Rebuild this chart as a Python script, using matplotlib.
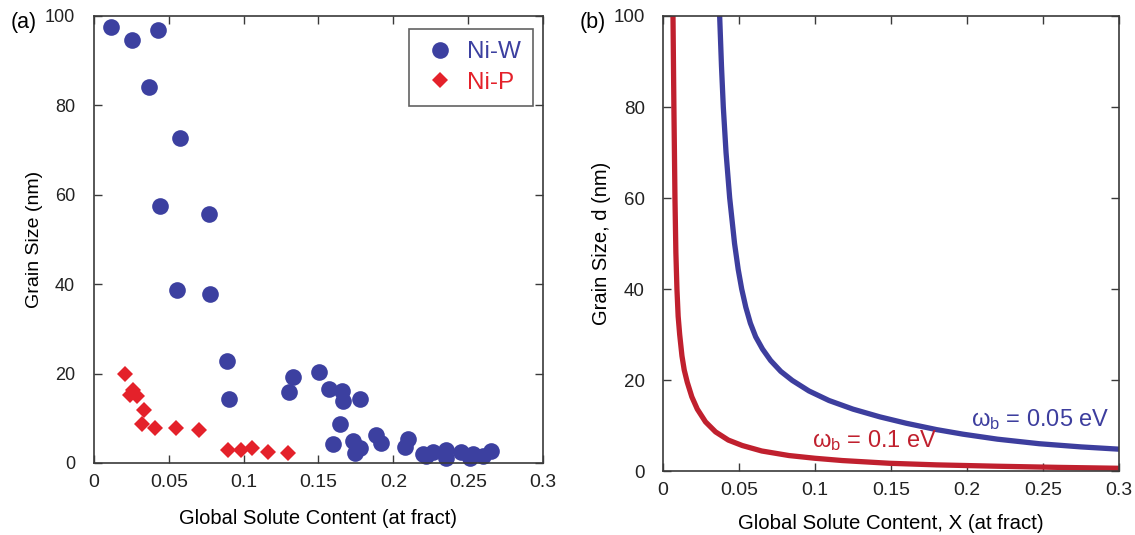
import matplotlib
matplotlib.use('Agg')
import matplotlib.pyplot as plt

# (a) measured grain size vs. solute content
niw_x = [0.0111, 0.0251, 0.0430, 0.0369, 0.0574, 0.0441, 0.0768, 0.0556, 0.0774,
         0.0890, 0.0901, 0.1331, 0.1302, 0.1502, 0.1571, 0.1654, 0.1665, 0.1776,
         0.1647, 0.1598, 0.1731, 0.1776, 0.1743, 0.1887, 0.1921, 0.2099, 0.2077,
         0.2199, 0.2266, 0.2355, 0.2355, 0.2455, 0.2533, 0.2600, 0.2655, 0.2220, 0.2510]
niw_d = [97.5, 94.6, 96.9, 84.2, 72.6, 57.5, 55.8, 38.7, 37.7,
         22.9, 14.3, 19.2, 15.8, 20.4, 16.6, 16.2, 13.8, 14.3,
         8.8, 4.2, 5.0, 3.3, 2.2, 6.3, 4.5, 5.4, 3.5,
         2.1, 2.4, 3.0, 1.1, 2.4, 1.9, 1.5, 2.6, 1.5, 1.1]
nip_x = [0.0207, 0.0240, 0.0285, 0.0263, 0.0334, 0.0318, 0.0407, 0.0547, 0.0701,
         0.0897, 0.0979, 0.1053, 0.1164, 0.1297]
nip_d = [19.9, 15.2, 14.9, 16.4, 11.9, 8.8, 7.8, 7.8, 7.3,
         3.0, 3.0, 3.3, 2.4, 2.2]

# (b) model curves
x_005 = [0.0365, 0.0373, 0.0385, 0.0397, 0.0415, 0.0439, 0.0471, 0.0495, 0.0518,
         0.0545, 0.0575, 0.0610, 0.0655, 0.0708, 0.0775, 0.0851, 0.0960, 0.1092,
         0.1250, 0.1427, 0.1600, 0.1800, 0.1973, 0.2200, 0.2475, 0.2750, 0.3000]
d_005 = [104, 100, 89, 80, 70, 60, 50, 44.3, 40,
         36, 32.5, 29.5, 26.8, 24.3, 21.9, 19.9, 17.6, 15.5,
         13.6, 11.9, 10.5, 9.1, 8.1, 7.0, 6.0, 5.3, 4.8]
x_01 = [0.0064, 0.0066, 0.0072, 0.0079, 0.0085, 0.0092, 0.0100, 0.0110, 0.0125,
        0.0140, 0.0160, 0.0190, 0.0226, 0.0280, 0.0346, 0.0430, 0.0522, 0.0650,
        0.0829, 0.1000, 0.1180, 0.1490, 0.1800, 0.2200, 0.2600, 0.3000]
d_01 = [106, 100, 80, 60, 48, 40, 34, 30, 25.3,
        22.2, 19.5, 16.3, 13.6, 10.8, 8.6, 6.8, 5.6, 4.4,
        3.4, 2.8, 2.3, 1.7, 1.35, 1.05, 0.8, 0.6]

x_ticks = [0, 0.05, 0.1, 0.15, 0.2, 0.25, 0.3]
x_ticklabels = ['0', '0.05', '0.1', '0.15', '0.2', '0.25', '0.3']
y_ticks = [0, 20, 40, 60, 80, 100]

blue = '#3C40A0'
red = '#E4212A'
curve_blue = '#3D3E9E'
curve_red = '#C0202E'
frame = '#3a3a3a'

plt.rcParams['font.family'] = ['Liberation Sans', 'DejaVu Sans']
plt.rcParams['mathtext.fontset'] = 'custom'
plt.rcParams['mathtext.rm'] = 'Liberation Sans'
plt.rcParams['mathtext.it'] = 'Liberation Sans'

fig = plt.figure(figsize=(11.35, 5.35), dpi=100)
ax1 = fig.add_axes([0.0828, 0.1346, 0.3956, 0.8355])
ax2 = fig.add_axes([0.5841, 0.1196, 0.4018, 0.8505])


def style(ax, ysize, ypad):
    ax.set_xlim(0, 0.3)
    ax.set_ylim(0, 100)
    ax.set_xticks(x_ticks)
    ax.set_xticklabels(x_ticklabels)
    ax.set_yticks(y_ticks)
    ax.tick_params(direction='in', length=6, width=1, top=True, right=True,
                   color=frame, labelcolor='#222222')
    ax.tick_params(axis='y', pad=ypad, labelsize=ysize)
    ax.tick_params(axis='x', pad=8, labelsize=14)
    for s in ax.spines.values():
        s.set_color(frame)
        s.set_linewidth(1.2)


# panel (a)
ax1.plot(niw_x, niw_d, 'o', color=blue, ms=12, mew=0, label='Ni-W', clip_on=False)
ax1.plot(nip_x, nip_d, 'D', color=red, ms=7.8, mew=0, label='Ni-P', clip_on=False)
style(ax1, 13, 13.5)
ax1.set_xlabel('Global Solute Content (at fract)', fontsize=14.5, labelpad=13)
ax1.set_ylabel('Grain Size (nm)', fontsize=14, labelpad=1.5)
leg = ax1.legend(loc='upper right', bbox_to_anchor=(0.978, 0.971), borderaxespad=0,
                 fancybox=False, edgecolor=frame, fontsize=17.5, labelcolor=[blue, red],
                 handlelength=1.6, handletextpad=0.3, borderpad=0.5, labelspacing=0.35,
                 numpoints=1)
leg.get_frame().set_linewidth(1.2)

# panel (b)
ax2.plot(x_005, d_005, color=curve_blue, lw=3.8, solid_capstyle='butt')
ax2.plot(x_01, d_01, color=curve_red, lw=3.8, solid_capstyle='butt')
style(ax2, 13.5, 13)
ax2.set_xlabel('Global Solute Content, X (at fract)', fontsize=14.7, labelpad=10.5)
ax2.set_ylabel('Grain Size, d (nm)', fontsize=14.5, labelpad=1.5)
ax2.text(0.294, 9.9, r'$\omega_\mathrm{b}$ = 0.05 eV', color=curve_blue, fontsize=17,
         ha='right', va='baseline')
ax2.text(0.098, 5.2, r'$\omega_\mathrm{b}$ = 0.1 eV', color=curve_red, fontsize=17,
         ha='left', va='baseline')

fig.text(0.009, 0.958, '(a)', fontsize=15.5, va='center')
fig.text(0.511, 0.958, '(b)', fontsize=15.5, va='center')

fig.savefig('out.png', dpi=100)
